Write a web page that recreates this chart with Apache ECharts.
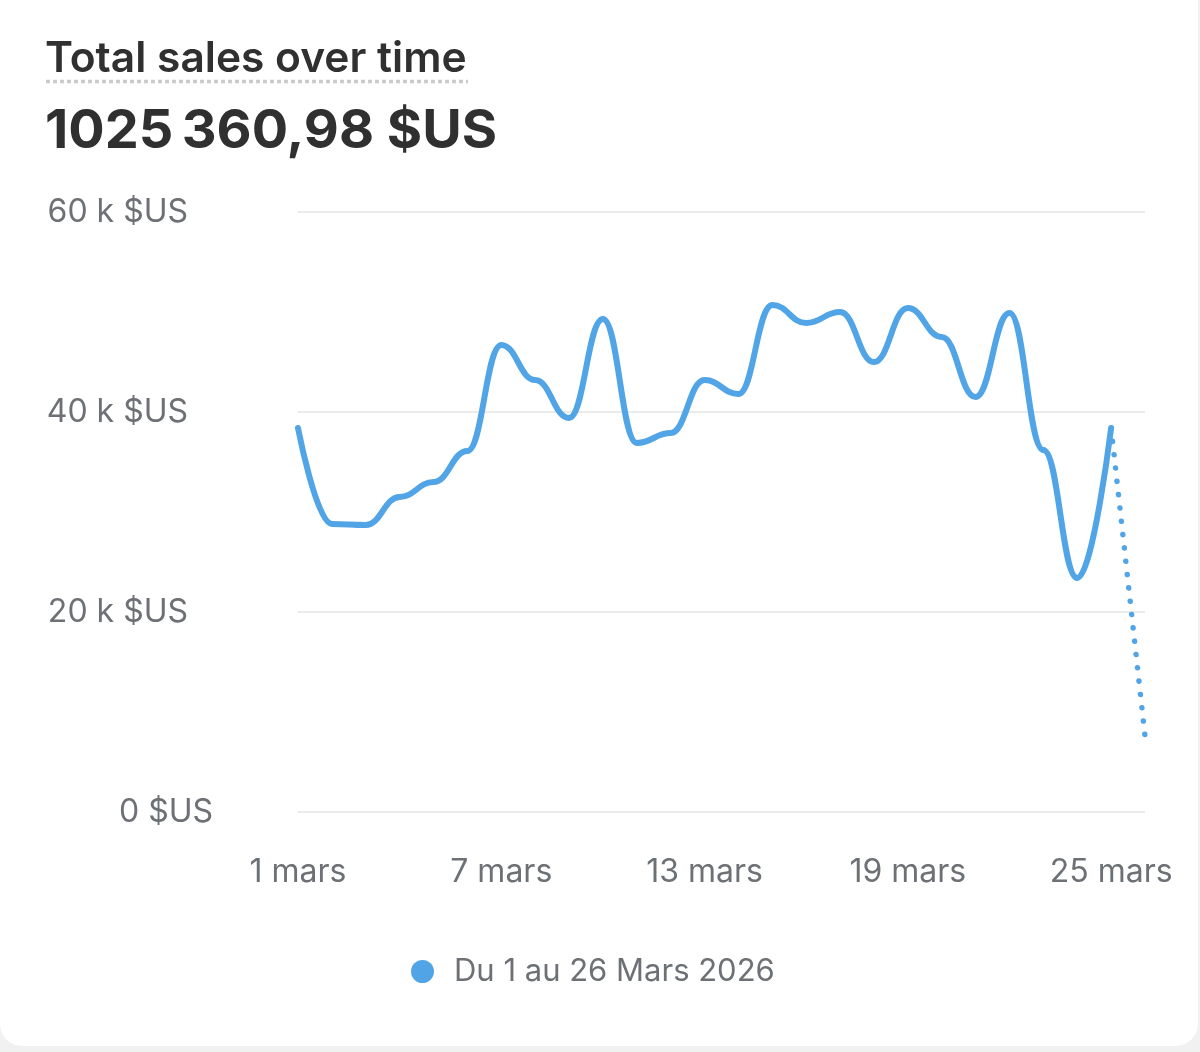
<!DOCTYPE html>
<html>
<head>
<meta charset="utf-8">
<script src="https://cdn.jsdelivr.net/npm/echarts@6/dist/echarts.min.js"></script>
<style>
  html, body { margin: 0; padding: 0; background: #f1f1f1; }
  #card { position: absolute; left: 0; top: -20px; width: 1198px; height: 1066px; background: #fff; border-radius: 22px; overflow: hidden; }
  #chart { position: absolute; left: 0; top: 20px; width: 1198px; height: 1052px; }
</style>
</head>
<body>
<div id="card"><div id="chart"></div></div>
<script>
// jours du mois (1 au 26 mars)
const days = ['1 mars', '2 mars', '3 mars', '4 mars', '5 mars', '6 mars', '7 mars', '8 mars', '9 mars',
  '10 mars', '11 mars', '12 mars', '13 mars', '14 mars', '15 mars', '16 mars', '17 mars', '18 mars',
  '19 mars', '20 mars', '21 mars', '22 mars', '23 mars', '24 mars', '25 mars', '26 mars'];

// ventes journalières (jours complets), en $US
const sales = [38400, 28800, 28700, 31500, 33000, 36100, 46700, 43200, 39400, 49300, 36900, 37900,
  43200, 41800, 50700, 48900, 50000, 45000, 50400, 47500, 41500, 49900, 36200, 23400, 38400, null];

// journée en cours (partielle), tracée en pointillé
const partial = [null, null, null, null, null, null, null, null, null, null, null, null, null,
  null, null, null, null, null, null, null, null, null, null, null, 38400, 7600];

const yTicks = [0, 20000, 40000, 60000];
const title = 'Total sales over time';
const total = '1025\u2009360,98 $US';
const legendName = 'Du 1 au 26 Mars 2026';

const blue = '#51a5e6';
const grey = '#6d7175';
const font = 'Inter, "Noto Sans", sans-serif';

const chart = echarts.init(document.getElementById('chart'), null, { renderer: 'canvas' });

chart.setOption({
  animation: false,
  grid: { left: 298, right: 53, top: 212, bottom: 240 },
  graphic: [
    {
      type: 'text', left: 45, top: 38,
      style: { text: title, font: '600 42.5px ' + font, fill: '#303030' }
    },
    {
      type: 'line',
      shape: { x1: 46, y1: 81.5, x2: 468, y2: 81.5 },
      style: { stroke: '#cbcbcb', lineWidth: 3.5, lineDash: [4, 3] }
    },
    {
      type: 'text', left: 45, top: 105,
      style: { text: total, font: '700 54px ' + font, fill: '#303030' }
    }
  ],
  legend: {
    data: [legendName],
    left: 406, top: 951,
    icon: 'circle', itemWidth: 23, itemHeight: 23,
    formatter: name => '{t|' + name + '}',
    textStyle: {
      color: grey, fontSize: 31, fontFamily: font,
      rich: { t: { color: grey, fontSize: 31, fontFamily: font, padding: [0, 0, 0, 15] } }
    }
  },
  xAxis: {
    type: 'category',
    data: days,
    boundaryGap: false,
    axisLine: { show: false },
    axisTick: { show: false },
    axisLabel: { interval: 5, color: grey, fontSize: 32, fontFamily: font, margin: 44 }
  },
  yAxis: {
    type: 'value',
    min: yTicks[0], max: yTicks[yTicks.length - 1], interval: yTicks[1] - yTicks[0],
    axisLabel: {
      color: grey, fontSize: 32, fontFamily: font, margin: 85,
      formatter: v => v === 0 ? '0 $US' : '{k|' + (v / 1000) + ' k $US}',
      rich: { k: { color: grey, fontSize: 32, fontFamily: font, padding: [0, 25, 0, 0] } }
    },
    splitLine: { lineStyle: { color: '#ebebeb', width: 2 } }
  },
  series: [
    {
      name: legendName,
      type: 'line',
      data: sales,
      smooth: 0.45,
      smoothMonotone: 'x',
      showSymbol: false,
      color: blue,
      lineStyle: { width: 6, color: blue, cap: 'round' }
    },
    {
      name: 'partial',
      type: 'line',
      data: partial,
      showSymbol: false,
      color: blue,
      lineStyle: { width: 5.5, color: blue, type: [0.1, 13.3], cap: 'round' }
    }
  ]
});
</script>
</body>
</html>
